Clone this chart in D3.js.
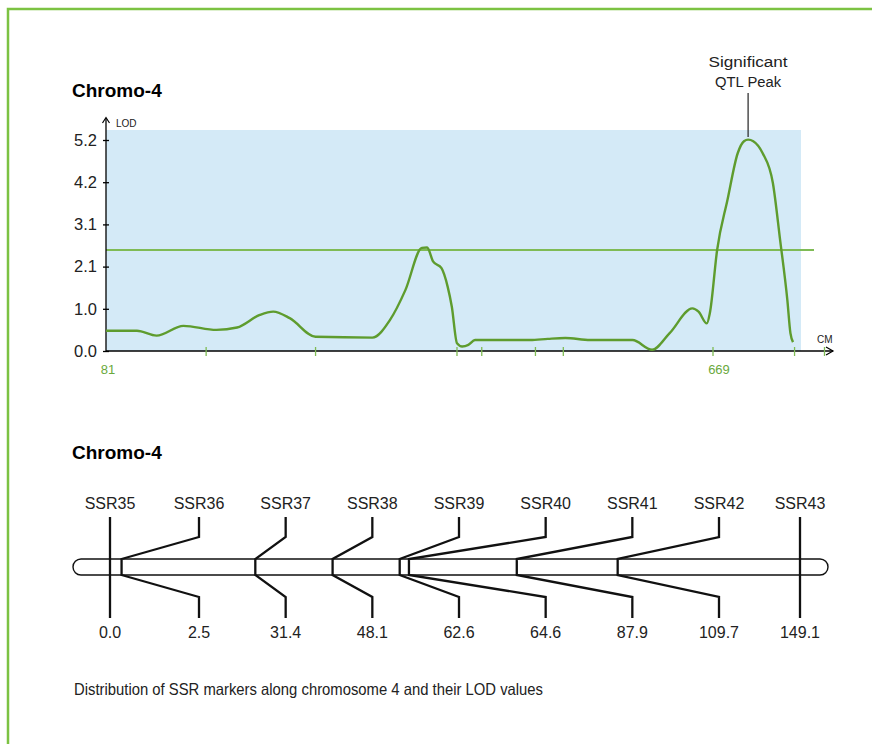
<!DOCTYPE html>
<html>
<head>
<meta charset="utf-8">
<script src="https://cdn.jsdelivr.net/npm/d3@7"></script>
<style>
  body { margin: 0; background: #fff; }
  text { font-family: "Liberation Sans", Arial, sans-serif; }
</style>
</head>
<body>
<div id="chart"></div>
<script>
// LOD curve (cM position, LOD)
const lodPos = [81, 111, 130, 156, 188, 208, 230, 243, 259, 284, 339, 356, 371, 387, 392, 398, 406, 412, 416, 421, 426, 432, 438.5, 492, 509, 526, 550, 591, 610, 627, 649, 655, 663, 666, 673, 683, 693, 699, 703, 708, 717, 727, 734, 741, 744, 746.5];
const lodVal = [0.5, 0.5, 0.38, 0.62, 0.52, 0.58, 0.89, 0.97, 0.81, 0.35, 0.33, 0.76, 1.5, 2.54, 2.55, 2.2, 2.04, 1.58, 1.09, 0.19, 0.11, 0.15, 0.27, 0.27, 0.3, 0.32, 0.27, 0.27, 0.03, 0.44, 1.05, 0.97, 0.68, 0.94, 2.49, 3.72, 4.88, 5.17, 5.21, 5.17, 4.88, 4.14, 2.74, 1.26, 0.44, 0.22];
const lodTicks = [0, 1.04, 2.08, 3.12, 4.16, 5.2];
const cmTicks = [178, 284, 421, 445, 497, 524, 669, 748, 777];
const cmLabels = [81, 669];
const threshold = 2.49;
const peakPos = 703;

// SSR markers on chromosome 4
const markers = ["SSR35", "SSR36", "SSR37", "SSR38", "SSR39", "SSR40", "SSR41", "SSR42", "SSR43"];
const markerCM = [0.0, 2.5, 31.4, 48.1, 62.6, 64.6, 87.9, 109.7, 149.1];

const green = "#5e9c2e";
const light = "#7fbb55";

const svg = d3.select("#chart").append("svg")
    .attr("width", 872)
    .attr("height", 744);

// frame
svg.append("path")
    .attr("d", "M8,744 L8,9 L872,9")
    .attr("fill", "none")
    .attr("stroke", "#7cc242")
    .attr("stroke-width", 2.5);

//------ LOD chart ------//
const x = d3.scaleLinear().domain([81, 669]).range([106, 713]);
const y = d3.scaleLinear().domain([0, 5.2]).range([351, 140]);

svg.append("text").attr("x", 72).attr("y", 97)
    .style("font-size", "19px").style("font-weight", "bold")
    .text("Chromo-4");

svg.append("rect")
    .attr("x", 106).attr("y", 130)
    .attr("width", 801 - 106).attr("height", 351 - 130)
    .attr("fill", "#d4eaf7");

// threshold
svg.append("line")
    .attr("x1", 106).attr("x2", 814)
    .attr("y1", y(threshold)).attr("y2", y(threshold))
    .attr("stroke", light).attr("stroke-width", 2);

// y axis
const yAxis = svg.append("g")
    .attr("transform", "translate(106,0)")
    .call(d3.axisLeft(y).tickValues(lodTicks).tickFormat(d3.format(".1f")).tickSize(3).tickPadding(6));
yAxis.select(".domain").remove();
yAxis.selectAll(".tick line").attr("x1", 3).attr("stroke", "#000").attr("stroke-width", 1.3);
yAxis.selectAll(".tick text")
    .style("font-size", "16.5px")
    .style("font-family", "'Liberation Sans', Arial, sans-serif")
    .attr("fill", "#222");

svg.append("line").attr("x1", 106).attr("x2", 106).attr("y1", 352).attr("y2", 118)
    .attr("stroke", "#000").attr("stroke-width", 1.3);
svg.append("path").attr("d", "M102.5,123 L106,117.5 L109.5,123")
    .attr("fill", "none").attr("stroke", "#000").attr("stroke-width", 1.2);
svg.append("text").attr("x", 116).attr("y", 127)
    .style("font-size", "10px").attr("fill", "#222").text("LOD");

// x axis
svg.append("line").attr("x1", 106).attr("x2", 833).attr("y1", 351).attr("y2", 351)
    .attr("stroke", "#000").attr("stroke-width", 1.3);
svg.append("path").attr("d", "M826,347 L833,351 L826,355")
    .attr("fill", "none").attr("stroke", "#000").attr("stroke-width", 1.2);
svg.append("text").attr("x", 817).attr("y", 343)
    .style("font-size", "10px").attr("fill", "#222").text("CM");

svg.append("g").selectAll("line")
    .data(cmTicks)
    .enter()
    .append("line")
    .attr("x1", d => x(d)).attr("x2", d => x(d))
    .attr("y1", 347).attr("y2", 356)
    .attr("stroke", light).attr("stroke-width", 1.3);

svg.append("g").selectAll("text")
    .data(cmLabels)
    .enter()
    .append("text")
    .attr("x", (d, i) => x(d) + (i === 0 ? 2 : 6))
    .attr("y", 374)
    .attr("text-anchor", "middle")
    .style("font-size", "13px")
    .attr("fill", "#6aa93c")
    .text(d => d);

// LOD curve
const lodData = lodPos.map((p, i) => ({ pos: p, lod: lodVal[i] }));
svg.append("path")
    .datum(lodData)
    .attr("fill", "none")
    .attr("stroke", green)
    .attr("stroke-width", 2.4)
    .attr("stroke-linejoin", "round")
    .attr("d", d3.line().x(d => x(d.pos)).y(d => y(d.lod)).curve(d3.curveMonotoneX));

// peak annotation
svg.append("line")
    .attr("x1", x(peakPos)).attr("x2", x(peakPos))
    .attr("y1", 93).attr("y2", 137)
    .attr("stroke", "#222").attr("stroke-width", 1.2);
svg.append("text").attr("x", x(peakPos)).attr("y", 67).attr("text-anchor", "middle")
    .style("font-size", "15.5px").attr("fill", "#222")
    .attr("textLength", 79).attr("lengthAdjust", "spacingAndGlyphs")
    .text("Significant");
svg.append("text").attr("x", x(peakPos)).attr("y", 87).attr("text-anchor", "middle")
    .style("font-size", "15.5px").attr("fill", "#222")
    .attr("textLength", 66).attr("lengthAdjust", "spacingAndGlyphs")
    .text("QTL Peak");

//------ marker map ------//
svg.append("text").attr("x", 72).attr("y", 459)
    .style("font-size", "19px").style("font-weight", "bold")
    .text("Chromo-4");

const cm = d3.scaleLinear().domain([0, 149.1]).range([110, 800]);
// label slots: first and last sit on their marker, the rest spread evenly
const slot = d3.scalePoint().domain(d3.range(1, markers.length - 1)).range([199, 719]);
const labelX = i => (i === 0 || i === markers.length - 1) ? cm(markerCM[i]) : slot(i);

const barTop = 559, barBot = 575;
svg.append("rect")
    .attr("x", 73).attr("y", barTop)
    .attr("width", 828 - 73).attr("height", barBot - barTop)
    .attr("rx", 8).attr("ry", 8)
    .attr("fill", "#fff").attr("stroke", "#111").attr("stroke-width", 1.4);

const mk = svg.append("g").selectAll("g")
    .data(markers)
    .enter()
    .append("g");

mk.append("path")
    .attr("fill", "none")
    .attr("stroke", "#111")
    .attr("stroke-width", 2.3)
    .attr("d", (d, i) => {
        const lx = labelX(i), mx = cm(markerCM[i]);
        if (i === 0 || i === markers.length - 1) return `M${mx},517 L${mx},618`;
        return `M${lx},517 L${lx},537 L${mx},${barTop} L${mx},${barBot} L${lx},597 L${lx},618`;
    });

mk.append("text")
    .attr("x", (d, i) => labelX(i))
    .attr("y", 509)
    .attr("text-anchor", "middle")
    .style("font-size", "16px")
    .attr("fill", "#222")
    .text(d => d);

mk.append("text")
    .attr("x", (d, i) => labelX(i))
    .attr("y", 638)
    .attr("text-anchor", "middle")
    .style("font-size", "16px")
    .attr("fill", "#222")
    .text((d, i) => markerCM[i].toFixed(1));

svg.append("text").attr("x", 74).attr("y", 695)
    .style("font-size", "16.5px")
    .attr("fill", "#222")
    .attr("textLength", 469).attr("lengthAdjust", "spacingAndGlyphs")
    .text("Distribution of SSR markers along chromosome 4 and their LOD values");
</script>
</body>
</html>
